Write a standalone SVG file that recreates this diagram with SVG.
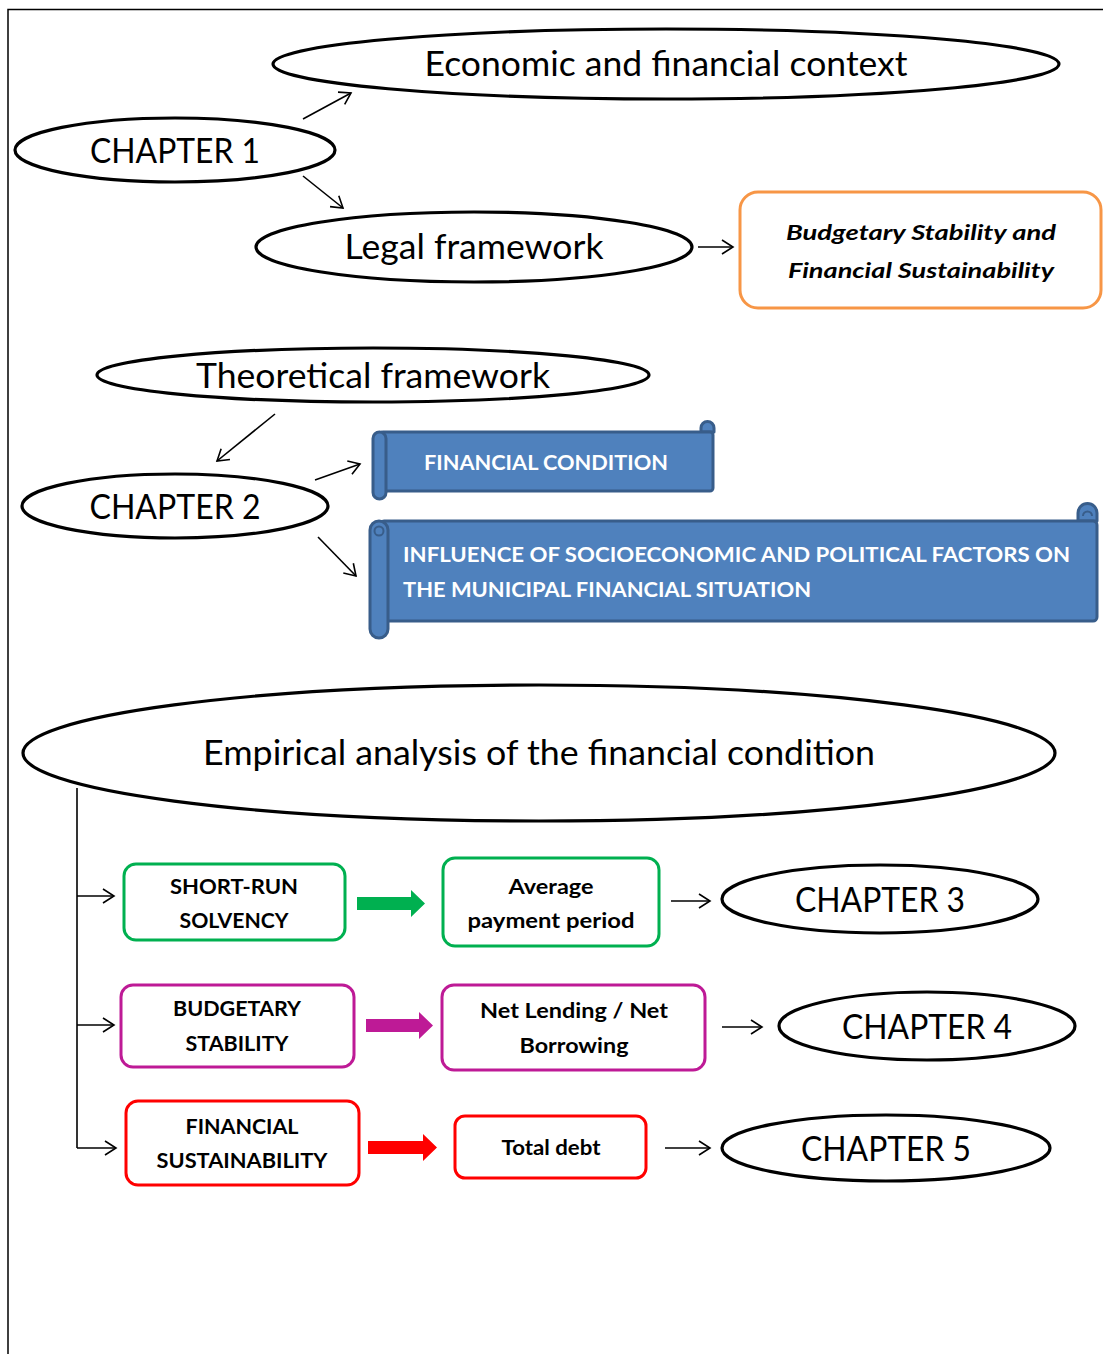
<svg xmlns="http://www.w3.org/2000/svg" width="1103" height="1354" viewBox="0 0 1103 1354">
<defs>
<marker id="ah" markerUnits="userSpaceOnUse" markerWidth="30" markerHeight="30" refX="15" refY="15" orient="auto" viewBox="0 0 30 30">
<path d="M4,8 L15,15 L4,22" fill="none" stroke="#000" stroke-width="1.6"/>
</marker>
<style>
.ell{fill:#fff;stroke:#000;stroke-width:3.2}
.big{font-family:Lato,"Open Sans",sans-serif;font-size:34px;fill:#000;text-anchor:middle}
.box{fill:#fff;stroke-width:3}
.bt{font-family:Lato,"Open Sans",sans-serif;font-size:20px;font-weight:bold;fill:#000;text-anchor:middle}
.st{font-family:Lato,"Open Sans",sans-serif;font-size:20px;font-weight:bold;fill:#fff}
.scr{fill:#4F81BD;stroke:#385D8A;stroke-width:3;stroke-linejoin:round}
.cn{stroke:#000;stroke-width:1.6;fill:none}
</style>
</defs>
<rect width="1103" height="1354" fill="#fff"/>
<path d="M8,1354 V9.5 H1103" fill="none" stroke="#000" stroke-width="1.5"/>

<g id="economic">
<ellipse class="ell" cx="666" cy="64" rx="393" ry="35"/>
<text class="big" x="666" y="76" textLength="483" lengthAdjust="spacingAndGlyphs">Economic and financial context</text>
</g>
<g id="chapter1">
<ellipse class="ell" cx="175" cy="150" rx="160" ry="32"/>
<text class="big" x="175" y="163" font-size="36" textLength="170" lengthAdjust="spacingAndGlyphs">CHAPTER 1</text>
</g>
<g id="legal">
<ellipse class="ell" cx="474" cy="247" rx="218" ry="35"/>
<text class="big" x="474" y="259" textLength="259" lengthAdjust="spacingAndGlyphs">Legal framework</text>
</g>
<g id="budgetary-law">
<rect x="740" y="192" width="361" height="116" rx="18" fill="#fff" stroke="#F79646" stroke-width="3"/>
<text class="bt" x="921" y="240" font-size="22" font-style="italic" textLength="270" lengthAdjust="spacingAndGlyphs">Budgetary Stability and</text>
<text class="bt" x="921" y="278" font-size="22" font-style="italic" textLength="266" lengthAdjust="spacingAndGlyphs">Financial Sustainability</text>
</g>
<g id="theoretical">
<ellipse class="ell" cx="373" cy="375" rx="276" ry="27"/>
<text class="big" x="373" y="388" textLength="354" lengthAdjust="spacingAndGlyphs">Theoretical framework</text>
</g>
<g id="chapter2">
<ellipse class="ell" cx="175" cy="506" rx="153" ry="32"/>
<text class="big" x="175" y="519" font-size="36" textLength="171" lengthAdjust="spacingAndGlyphs">CHAPTER 2</text>
</g>
<g id="financial-condition">
<path class="scr" d="M701,432 V428 A6.5,6.5 0 0 1 714,428 V432 Z"/>
<rect class="scr" x="380" y="432" width="333" height="59" rx="3"/>
<rect class="scr" x="373" y="432" width="13" height="67" rx="6.5"/>
<text class="st" x="424" y="470" textLength="244" lengthAdjust="spacingAndGlyphs">FINANCIAL CONDITION</text>
</g>
<g id="influence">
<path class="scr" d="M1078,521 V513 A9.5,9.5 0 0 1 1097,513 V521 Z"/>
<rect class="scr" x="380" y="521" width="717" height="100" rx="4"/>
<rect class="scr" x="370" y="521" width="18" height="117" rx="9"/>
<circle cx="379" cy="531" r="4.5" fill="#4F81BD" stroke="#385D8A" stroke-width="2"/>
<path d="M1083,516 a4.5,4.5 0 0 1 9,0" fill="none" stroke="#385D8A" stroke-width="2"/>
<text class="st" x="403" y="562" textLength="667" lengthAdjust="spacingAndGlyphs">INFLUENCE OF SOCIOECONOMIC AND POLITICAL FACTORS ON</text>
<text class="st" x="403" y="597" textLength="408" lengthAdjust="spacingAndGlyphs">THE MUNICIPAL FINANCIAL SITUATION</text>
</g>
<g id="empirical">
<ellipse class="ell" cx="539" cy="753" rx="516" ry="68"/>
<text class="big" x="539" y="765" textLength="672" lengthAdjust="spacingAndGlyphs">Empirical analysis of the financial condition</text>
</g>
<g id="short-run">
<rect class="box" x="124" y="864" width="221" height="76" rx="12" stroke="#00B050"/>
<text class="bt" x="234" y="894" textLength="128" lengthAdjust="spacingAndGlyphs">SHORT-RUN</text>
<text class="bt" x="234" y="928" textLength="109" lengthAdjust="spacingAndGlyphs">SOLVENCY</text>
</g>
<g id="avg-payment">
<rect class="box" x="443" y="858" width="216" height="88" rx="12" stroke="#00B050"/>
<text class="bt" x="551" y="894" textLength="85" lengthAdjust="spacingAndGlyphs">Average</text>
<text class="bt" x="551" y="928" textLength="167" lengthAdjust="spacingAndGlyphs">payment period</text>
</g>
<g id="chapter3">
<ellipse class="ell" cx="880" cy="899" rx="158" ry="34"/>
<text class="big" x="880" y="912" font-size="36" textLength="170" lengthAdjust="spacingAndGlyphs">CHAPTER 3</text>
</g>
<g id="budgetary-stability">
<rect class="box" x="121" y="985" width="233" height="82" rx="12" stroke="#BE1A96"/>
<text class="bt" x="237" y="1016" textLength="128" lengthAdjust="spacingAndGlyphs">BUDGETARY</text>
<text class="bt" x="237" y="1051" textLength="103" lengthAdjust="spacingAndGlyphs">STABILITY</text>
</g>
<g id="net-lending">
<rect class="box" x="442" y="985" width="263" height="85" rx="12" stroke="#BE1A96"/>
<text class="bt" x="574" y="1018" textLength="188" lengthAdjust="spacingAndGlyphs">Net Lending / Net</text>
<text class="bt" x="574" y="1053" textLength="109" lengthAdjust="spacingAndGlyphs">Borrowing</text>
</g>
<g id="chapter4">
<ellipse class="ell" cx="927" cy="1026" rx="148" ry="34"/>
<text class="big" x="927" y="1039" font-size="36" textLength="170" lengthAdjust="spacingAndGlyphs">CHAPTER 4</text>
</g>
<g id="financial-sustainability">
<rect class="box" x="126" y="1101" width="233" height="84" rx="12" stroke="#FF0000"/>
<text class="bt" x="242" y="1134" textLength="113" lengthAdjust="spacingAndGlyphs">FINANCIAL</text>
<text class="bt" x="242" y="1168" textLength="171" lengthAdjust="spacingAndGlyphs">SUSTAINABILITY</text>
</g>
<g id="total-debt">
<rect class="box" x="455" y="1116" width="191" height="62" rx="10" stroke="#FF0000"/>
<text class="bt" x="551" y="1155" textLength="99" lengthAdjust="spacingAndGlyphs">Total debt</text>
</g>
<g id="chapter5">
<ellipse class="ell" cx="886" cy="1148" rx="164" ry="33"/>
<text class="big" x="886" y="1161" font-size="36" textLength="170" lengthAdjust="spacingAndGlyphs">CHAPTER 5</text>
</g>

<g id="connectors">
<line class="cn" x1="303" y1="119" x2="351" y2="93" marker-end="url(#ah)"/>
<line class="cn" x1="303" y1="176" x2="343" y2="208" marker-end="url(#ah)"/>
<line class="cn" x1="698" y1="247" x2="733" y2="247" marker-end="url(#ah)"/>
<line class="cn" x1="275" y1="414" x2="217" y2="461" marker-end="url(#ah)"/>
<line class="cn" x1="315" y1="480" x2="360" y2="464" marker-end="url(#ah)"/>
<line class="cn" x1="318" y1="537" x2="356" y2="576" marker-end="url(#ah)"/>
<path class="cn" d="M77,788 V1148"/>
<line class="cn" x1="77" y1="896" x2="114" y2="896" marker-end="url(#ah)"/>
<line class="cn" x1="77" y1="1025" x2="114" y2="1025" marker-end="url(#ah)"/>
<line class="cn" x1="77" y1="1148" x2="116" y2="1148" marker-end="url(#ah)"/>
<line class="cn" x1="671" y1="901" x2="710" y2="901" marker-end="url(#ah)"/>
<line class="cn" x1="722" y1="1027" x2="762" y2="1027" marker-end="url(#ah)"/>
<line class="cn" x1="665" y1="1148" x2="710" y2="1148" marker-end="url(#ah)"/>
<polygon points="357,897 411,897 411,890 425,903.5 411,917 411,910 357,910" fill="#00B050"/>
<polygon points="366,1019 419,1019 419,1012 433,1025.5 419,1039 419,1032 366,1032" fill="#BE1A96"/>
<polygon points="368,1141 423,1141 423,1134 437,1147.5 423,1161 423,1154 368,1154" fill="#FF0000"/>
</g>
</svg>
